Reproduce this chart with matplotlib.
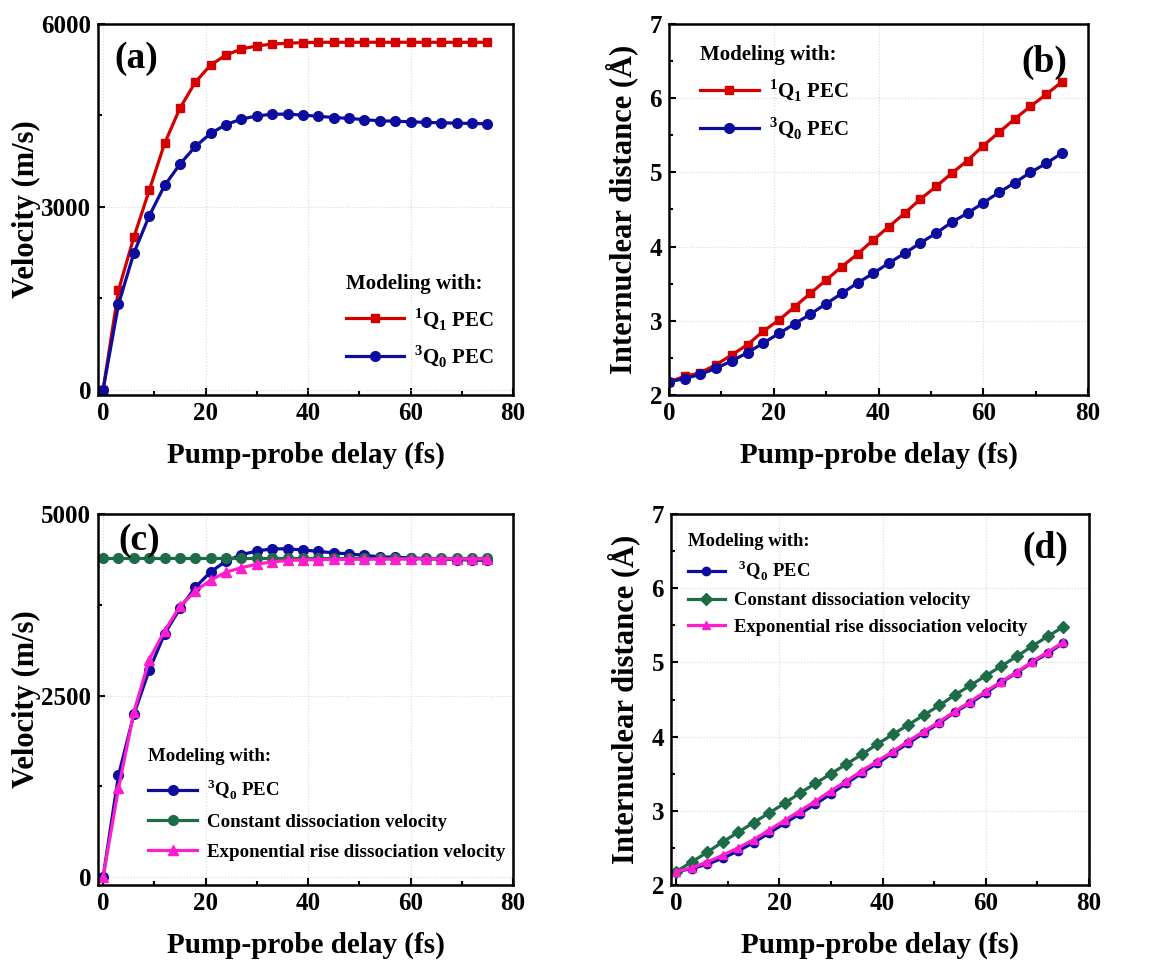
import numpy as np
import matplotlib.pyplot as plt
from matplotlib.ticker import MultipleLocator

plt.rcParams['font.family'] = ['Liberation Serif', 'DejaVu Serif']
plt.rcParams['font.weight'] = 'bold'
plt.rcParams['mathtext.fontset'] = 'custom'
plt.rcParams['mathtext.rm'] = 'Liberation Serif:bold'
plt.rcParams['mathtext.bf'] = 'Liberation Serif:bold'

# pump-probe delay (fs)
delay = [0, 3, 6, 9, 12, 15, 18, 21, 24, 27, 30, 33, 36, 39, 42, 45, 48, 51,
         54, 57, 60, 63, 66, 69, 72, 75]

# (a)/(c) velocity (m/s)
vel_1q1 = [0, 1630, 2500, 3270, 4040, 4620, 5045, 5330, 5490, 5590, 5640, 5670,
           5685, 5695, 5700, 5700, 5700, 5700, 5700, 5700, 5700, 5700, 5700, 5700,
           5700, 5700]
vel_3q0 = [0, 1400, 2240, 2850, 3350, 3700, 3990, 4205, 4350, 4440, 4490, 4520,
           4520, 4505, 4485, 4465, 4450, 4430, 4410, 4405, 4395, 4385, 4378, 4373,
           4367, 4362]
vel_const = [4390] * len(delay)
vel_exp = [0, 1220, 2270, 2995, 3390, 3730, 3940, 4090, 4200, 4260, 4310, 4340,
           4360, 4368, 4372, 4374, 4376, 4377, 4378, 4379, 4380, 4380, 4380, 4380,
           4380, 4380]

# (b)/(d) internuclear distance (Angstrom)
r_1q1 = [2.18, 2.25, 2.30, 2.41, 2.54, 2.68, 2.86, 3.01, 3.19, 3.37, 3.55, 3.73,
         3.90, 4.09, 4.27, 4.45, 4.64, 4.81, 4.99, 5.16, 5.36, 5.54, 5.72, 5.89,
         6.05, 6.22]
r_3q0 = [2.18, 2.22, 2.28, 2.36, 2.46, 2.57, 2.70, 2.83, 2.96, 3.09, 3.23, 3.37,
         3.51, 3.64, 3.78, 3.91, 4.05, 4.18, 4.33, 4.45, 4.59, 4.73, 4.86, 5.00,
         5.12, 5.26]
r_const = [2.18, 2.31, 2.44, 2.58, 2.71, 2.84, 2.97, 3.10, 3.24, 3.37, 3.50, 3.63,
           3.76, 3.90, 4.03, 4.16, 4.29, 4.42, 4.56, 4.69, 4.82, 4.95, 5.08, 5.22,
           5.35, 5.48]
r_exp = [2.18, 2.23, 2.31, 2.40, 2.50, 2.61, 2.74, 2.87, 3.00, 3.13, 3.27, 3.40,
         3.54, 3.67, 3.80, 3.94, 4.07, 4.20, 4.34, 4.47, 4.61, 4.74, 4.87, 5.01,
         5.14, 5.27]

RED = "#d40000"
BLUE = "#0c0c9e"
GREEN = "#1d6b47"
PINK = "#ff1ece"

fig = plt.figure(figsize=(11.57, 9.68), dpi=100)
W, H = 1157, 968


def add_ax(l, t, r, b):
    return fig.add_axes([l / W, 1 - b / H, (r - l) / W, (b - t) / H])


axa = add_ax(98, 24, 513, 395)
axb = add_ax(669, 24, 1088, 395)
axc = add_ax(98, 514, 513, 885)
axd = add_ax(671, 514, 1089, 885)

lw = 2.3
axa.plot(delay, vel_1q1, color=RED, lw=lw, marker="s", ms=6, label=r"$^{1}$Q$_{1}$ PEC")
axa.plot(delay, vel_3q0, color=BLUE, lw=lw, marker="o", ms=7, label=r"$^{3}$Q$_{0}$ PEC")
axb.plot(delay, r_1q1, color=RED, lw=lw, marker="s", ms=6, label=r"$^{1}$Q$_{1}$ PEC")
axb.plot(delay, r_3q0, color=BLUE, lw=lw, marker="o", ms=7, label=r"$^{3}$Q$_{0}$ PEC")

axc.plot(delay, vel_3q0, color=BLUE, lw=lw, marker="o", ms=7, label=r"$^{3}$Q$_{0}$ PEC")
axc.plot(delay, vel_const, color=GREEN, lw=lw, marker="o", ms=7, label="Constant dissociation velocity")
axc.plot(delay, vel_exp, color=PINK, lw=lw, marker="^", ms=7, label="Exponential rise dissociation velocity")

axd.plot(delay, r_3q0, color=BLUE, lw=lw, marker="o", ms=6, label=r" $^{3}$Q$_{0}$ PEC")
axd.plot(delay, r_const, color=GREEN, lw=lw, marker="D", ms=6, label="Constant dissociation velocity")
axd.plot(delay, r_exp, color=PINK, lw=lw, marker="^", ms=6, label="Exponential rise dissociation velocity")

for ax in (axa, axb, axc, axd):
    ax.set_xticks([0, 20, 40, 60, 80])
    ax.xaxis.set_minor_locator(MultipleLocator(10))
    ax.tick_params(which="both", direction="in", width=1.5, labelsize=18, pad=5)
    ax.tick_params(which="major", length=5)
    ax.tick_params(which="minor", length=3)
    for s in ax.spines.values():
        s.set_linewidth(1.8)
    ax.grid(True, color="#d8d8d8", ls=":", lw=0.8)
    ax.set_axisbelow(True)
    ax.set_xlabel("Pump-probe delay (fs)", fontsize=21, fontweight="bold", labelpad=12)

axa.set_xlim(-1, 80)
axa.set_ylim(-90, 6000)
axa.set_yticks([0, 3000, 6000])
axa.yaxis.set_minor_locator(MultipleLocator(1500))
axa.set_ylabel("Velocity (m/s)", fontsize=22, fontweight="bold", labelpad=0)

axc.set_xlim(-1, 80)
axc.set_ylim(-110, 5000)
axc.set_yticks([0, 2500, 5000])
axc.yaxis.set_minor_locator(MultipleLocator(1250))
axc.set_ylabel("Velocity (m/s)", fontsize=22, fontweight="bold", labelpad=0)

axb.set_xlim(0, 80)
axd.set_xlim(-1, 80)
for ax in (axb, axd):
    ax.set_ylim(2, 7)
    ax.set_yticks([2, 3, 4, 5, 6, 7])
    ax.yaxis.set_minor_locator(MultipleLocator(0.5))
    ax.set_ylabel("Internuclear distance (Å)", fontsize=22, fontweight="bold", labelpad=8)

axa.text(0.04, 0.955, "(a)", transform=axa.transAxes, fontsize=27, fontweight="bold", va="top")
axb.text(0.95, 0.945, "(b)", transform=axb.transAxes, fontsize=27, fontweight="bold", va="top", ha="right")
axc.text(0.05, 0.975, "(c)", transform=axc.transAxes, fontsize=27, fontweight="bold", va="top")
axd.text(0.95, 0.955, "(d)", transform=axd.transAxes, fontsize=27, fontweight="bold", va="top", ha="right")

leg = axa.legend(loc="lower right", bbox_to_anchor=(1.0, 0.02), frameon=False, fontsize=15,
                 title="Modeling with:", title_fontproperties={"size": 15, "weight": "bold"},
                 handlelength=2.8, handletextpad=0.5, labelspacing=0.55)
leg._legend_box.align = "left"
leg = axb.legend(loc="upper left", bbox_to_anchor=(0.03, 0.995), frameon=False, fontsize=15,
                 title="Modeling with:", title_fontproperties={"size": 15, "weight": "bold"},
                 handlelength=2.8, handletextpad=0.5, labelspacing=0.6)
leg._legend_box.align = "left"
leg = axc.legend(loc="lower left", bbox_to_anchor=(0.08, 0.02), frameon=False, fontsize=13.6,
                 title="Modeling with:", title_fontproperties={"size": 13.6, "weight": "bold"},
                 handlelength=2.6, handletextpad=0.5, labelspacing=0.65)
leg._legend_box.align = "left"
leg = axd.legend(loc="upper left", bbox_to_anchor=(0.0, 0.995), frameon=False, fontsize=13.4,
                 title="Modeling with:", title_fontproperties={"size": 13.4, "weight": "bold"},
                 handlelength=2.0, handletextpad=0.5, labelspacing=0.5)
leg._legend_box.align = "left"

fig.savefig("out.png", dpi=100)
